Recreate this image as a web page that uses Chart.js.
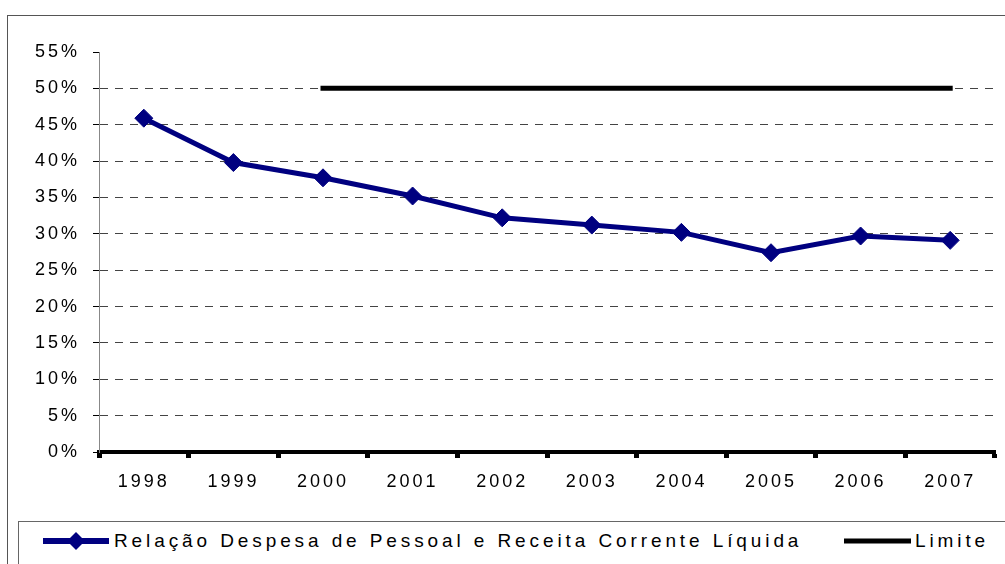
<!DOCTYPE html>
<html>
<head>
<meta charset="utf-8">
<script src="https://cdn.jsdelivr.net/npm/chart.js@4"></script>
<style>
  body { margin: 0; width: 1005px; height: 564px; overflow: hidden; background: #fff; position: relative;
         font-family: 'Liberation Sans', Arial, sans-serif; }
  #frame { position: absolute; left: 7px; top: 15px; width: 1020px; height: 600px; border: 1px solid #555; }
  #chart { position: absolute; left: 0; top: 0; }
  #legend { position: absolute; left: 18px; top: 521px; width: 1010px; height: 60px; border: 1px solid #666; background: #fff; }
  .item { position: absolute; top: 9px; font-size: 19px; line-height: 19px; letter-spacing: 3.9px; color: #000; white-space: nowrap; }
  .item svg { position: absolute; top: 0; }
</style>
</head>
<body>
<div id="frame"></div>
<canvas id="chart" width="1005" height="510"></canvas>
<div id="legend">
  <div class="item" style="left:24px;">
    <svg width="68" height="20" style="left:0;"><line x1="0" y1="10" x2="66" y2="10" stroke="#000080" stroke-width="6"/><polygon points="33,1 42,10 33,19 24,10" fill="#000080"/></svg>
    <span style="margin-left:71px;" id="serieLabel"></span>
  </div>
  <div class="item" style="left:825px;">
    <svg width="68" height="20" style="left:0;"><line x1="0" y1="10" x2="67" y2="10" stroke="#000" stroke-width="5"/></svg>
    <span style="margin-left:71px;" id="limiteLabel"></span>
  </div>
</div>
<script>
'use strict';

let years = ['1998', '1999', '2000', '2001', '2002', '2003', '2004', '2005', '2006', '2007'];
let relacao = [45.9, 39.8, 37.7, 35.2, 32.2, 31.2, 30.2, 27.4, 29.7, 29.1];
let limite = [null, null, 50, 50, 50, 50, 50, 50, 50, 50];
let seriesNames = ['Relação Despesa de Pessoal e Receita Corrente Líquida', 'Limite'];
let yMin = 0, yMax = 55, yStep = 5;

document.getElementById('serieLabel').textContent = seriesNames[0];
document.getElementById('limiteLabel').textContent = seriesNames[1];

// spaced-out tick text like the original
const spacing = {
  id: 'spacing',
  beforeUpdate(chart) { chart.ctx.letterSpacing = '3px'; },
  beforeDraw(chart) { chart.ctx.letterSpacing = '3px'; }
};

let font = { family: "'Liberation Sans', Arial, sans-serif", size: 18 };

new Chart(document.getElementById('chart'), {
  type: 'line',
  data: {
    labels: years,
    datasets: [{
      label: seriesNames[0],
      data: relacao,
      borderColor: '#000080',
      backgroundColor: '#000080',
      borderWidth: 5,
      pointStyle: 'rectRot',
      pointRadius: 9,
      pointBorderWidth: 1,
      pointBackgroundColor: '#000080',
      pointBorderColor: '#000080',
      tension: 0
    },
    {
      label: seriesNames[1],
      data: limite,
      borderColor: '#000',
      borderWidth: 5,
      borderCapStyle: 'square',
      pointRadius: 0,
      tension: 0
    }]
  },
  options: {
    responsive: false,
    animation: false,
    layout: { padding: { top: 52, right: 7, left: 0, bottom: 0 } },
    plugins: { legend: { display: false }, tooltip: { enabled: false } },
    scales: {
      x: {
        offset: true,
        afterFit(scale) { scale.height = 58; },
        border: { color: '#000', width: 4 },
        grid: { offset: true, drawOnChartArea: false, tickLength: 6, tickWidth: 5, tickColor: '#000' },
        ticks: { font: font, color: '#000', padding: 13, maxRotation: 0 }
      },
      y: {
        min: yMin,
        max: yMax,
        afterFit(scale) { scale.width = 99; },
        border: { color: '#888', width: 1, dash: [8, 7] },
        grid: {
          color: ctx => (ctx.tick && (ctx.tick.value === yMin || ctx.tick.value === yMax)) ? 'rgba(0,0,0,0)' : '#444',
          tickBorderDash: [],
          tickColor: '#000',
          tickLength: 6
        },
        ticks: { stepSize: yStep, font: font, color: '#000', padding: 13, callback: v => v + '%' }
      }
    }
  },
  plugins: [spacing]
});
</script>
</body>
</html>
